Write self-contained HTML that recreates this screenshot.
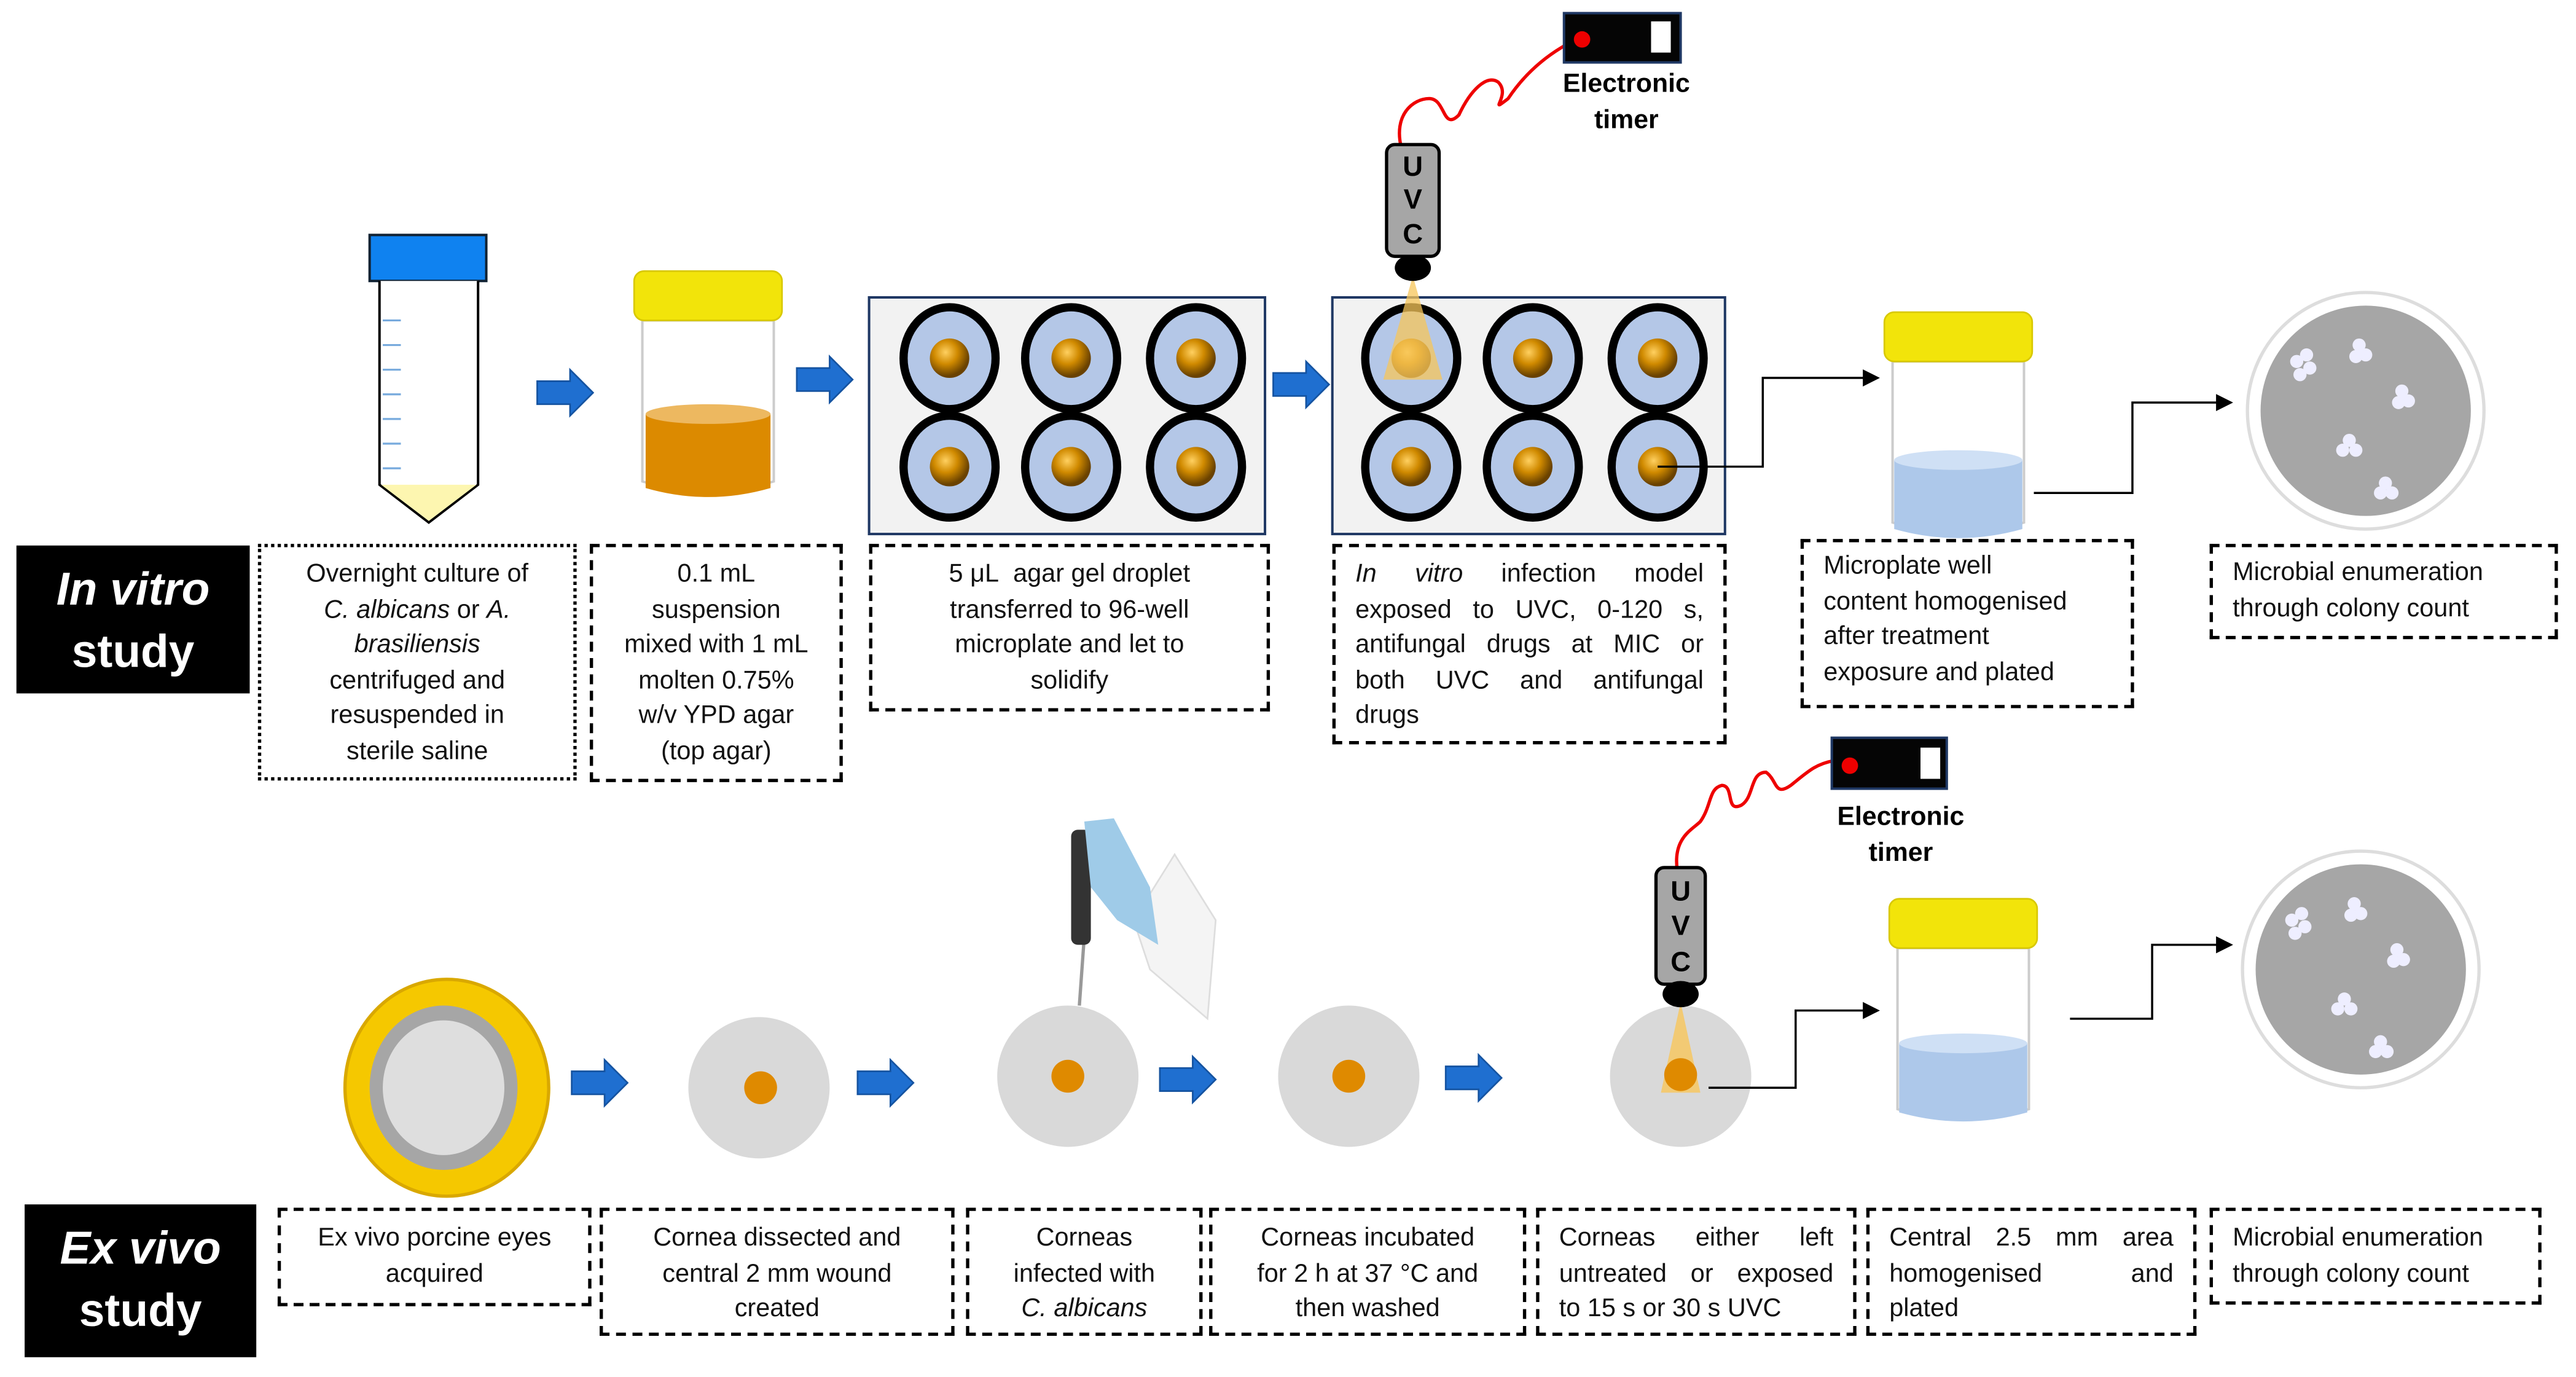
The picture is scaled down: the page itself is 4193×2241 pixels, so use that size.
<!DOCTYPE html>
<html><head><meta charset="utf-8"><style>
html,body{margin:0;padding:0;background:#fff;width:4193px;height:2240px;overflow:hidden}
#w{position:absolute;left:0;top:0;width:1568px;height:838px;transform:scale(2.6741);transform-origin:0 0;font-family:"Liberation Sans",sans-serif}
.b{position:absolute;box-sizing:border-box;border:2px dashed #000;font-size:15.5px;line-height:21.5px;color:#111;text-align:center;padding-top:6px}
.dot{border-style:dotted}
.j{text-align:left;padding:6px 12px 0 12px}
.j span{display:block;text-align:justify;text-align-last:justify}
.j span.e{text-align-last:left}
.l{text-align:left;padding-left:12px}
.lab{position:absolute;background:#000;color:#fff;font-weight:bold;font-size:28px;line-height:38px;text-align:center;padding-top:8px;box-sizing:border-box}
.et{position:absolute;font-weight:bold;font-size:16px;line-height:22px;text-align:center;width:100px}
svg{position:absolute;left:0;top:0}
</style></head><body><div id="w">
<svg width="1568" height="838" viewBox="0 0 1568 838">
<defs>
<radialGradient id="ball" cx="0.4" cy="0.35" r="0.6"><stop offset="0" stop-color="#ffd060"/><stop offset="0.5" stop-color="#d08a00"/><stop offset="1" stop-color="#6a4200"/></radialGradient>
<marker id="ah" markerWidth="8" markerHeight="8" refX="7" refY="4" orient="auto"><path d="M0,0 L8,4 L0,8z" fill="#000"/></marker>
<g id="arr"><path d="M0,-7 H20 V-14 L34,0 L20,14 V7 H0z" fill="#1f6fd0" stroke="#1553a0" stroke-width="1"/></g>
<g id="well"><ellipse rx="28" ry="31" fill="#b4c7e7" stroke="#000" stroke-width="5"/><circle r="12" fill="url(#ball)"/></g>
<g id="petri"><circle r="72" fill="#fff" stroke="#ddd" stroke-width="2"/><circle r="64" fill="#a6a6a6"/>
<g fill="#eef"><circle cx="-42" cy="-30" r="4"/><circle cx="-36" cy="-34" r="4"/><circle cx="-40" cy="-22" r="4"/><circle cx="-34" cy="-26" r="4"/>
<circle cx="-4" cy="-40" r="4"/><circle cx="0" cy="-34" r="4"/><circle cx="-6" cy="-33" r="4"/>
<circle cx="22" cy="-12" r="4"/><circle cx="26" cy="-6" r="4"/><circle cx="20" cy="-5" r="4"/>
<circle cx="-10" cy="18" r="4"/><circle cx="-6" cy="24" r="4"/><circle cx="-14" cy="24" r="4"/>
<circle cx="12" cy="44" r="4"/><circle cx="16" cy="50" r="4"/><circle cx="9" cy="50" r="4"/></g></g>
<g id="jar"><path d="M5,30 H85 V128 Q45,140 5,128z" fill="#fff" stroke="#ccc" stroke-width="1.5"/>
<rect x="0" y="0" width="90" height="30" rx="6" fill="#f2e40a" stroke="#d8c800"/></g>
</defs>
<rect x="225" y="143" width="71" height="28" fill="#0f82f0" stroke="#123" stroke-width="1.5"/>
<path d="M231,171 V295 L261,318 L291,295 V171" fill="#fff" stroke="#000" stroke-width="1.5"/>
<path d="M232,295 L261,317 L290,295z" fill="#fdf6b0"/>
<g stroke="#7ad" stroke-width="1.2"><line x1="233" y1="195" x2="244" y2="195"/><line x1="233" y1="210" x2="244" y2="210"/><line x1="233" y1="225" x2="244" y2="225"/><line x1="233" y1="240" x2="244" y2="240"/><line x1="233" y1="255" x2="244" y2="255"/><line x1="233" y1="270" x2="244" y2="270"/><line x1="233" y1="285" x2="244" y2="285"/></g>
<use href="#arr" x="327" y="239"/>
<use href="#jar" x="386" y="165"/>
<path d="M393,252 H469 V297 Q431,308 393,297z" fill="#dc8a00"/><ellipse cx="431" cy="252" rx="38" ry="6" fill="#edb860"/>
<use href="#arr" x="485" y="231"/>
<rect x="529" y="181" width="241" height="144" fill="#f2f2f2" stroke="#1f3864" stroke-width="1.5"/>
<use href="#well" x="578" y="218"/><use href="#well" x="652" y="218"/><use href="#well" x="728" y="218"/>
<use href="#well" x="578" y="284"/><use href="#well" x="652" y="284"/><use href="#well" x="728" y="284"/>
<use href="#arr" x="775" y="234"/>
<rect x="811" y="181" width="239" height="144" fill="#f2f2f2" stroke="#1f3864" stroke-width="1.5"/>
<use href="#well" x="859" y="218"/><use href="#well" x="933" y="218"/><use href="#well" x="1009" y="218"/>
<use href="#well" x="859" y="284"/><use href="#well" x="933" y="284"/><use href="#well" x="1009" y="284"/>
<path d="M860,168 L842,231 L878,231z" fill="#f7c55a" opacity="0.75"/>
<path d="M853,90 C848,70 860,60 870,60 C880,60 878,80 888,70 C895,55 905,45 912,50 C920,58 905,70 918,60 C928,45 940,35 952,28" fill="none" stroke="#e00" stroke-width="2"/>
<rect x="844" y="88" width="32" height="68" rx="5" fill="#a6a6a6" stroke="#000" stroke-width="2"/>
<g font-family="Liberation Sans" font-weight="bold" font-size="17" text-anchor="middle"><text x="860" y="107">U</text><text x="860" y="127">V</text><text x="860" y="148">C</text></g>
<ellipse cx="860" cy="163" rx="11" ry="8" fill="#000"/>
<rect x="952" y="8" width="71" height="30" fill="#050505" stroke="#1f3864" stroke-width="1.5"/><circle cx="963" cy="24" r="5" fill="#e00"/><rect x="1005" y="13" width="12" height="19" fill="#fff"/>
<path d="M1009,284 H1073 V230 H1143" fill="none" stroke="#000" stroke-width="1.3" marker-end="url(#ah)"/>
<use href="#jar" x="1147" y="190"/>
<path d="M1153,280 H1231 V322 Q1192,333 1153,322z" fill="#adc8ea"/><ellipse cx="1192" cy="280" rx="39" ry="6" fill="#cfe0f5"/>
<path d="M1238,300 H1298 V245 H1358" fill="none" stroke="#000" stroke-width="1.3" marker-end="url(#ah)"/>
<use href="#petri" x="1440" y="250"/>

<ellipse cx="272" cy="662" rx="62" ry="66" fill="#f5c800" stroke="#d9a800" stroke-width="2"/>
<ellipse cx="270" cy="662" rx="45" ry="50" fill="#a6a6a6"/><ellipse cx="270" cy="662" rx="37" ry="41" fill="#dedede"/>
<use href="#arr" x="348" y="659"/>
<circle cx="462" cy="662" r="43" fill="#d9d9d9"/><circle cx="463" cy="662" r="10" fill="#df8a00"/>
<use href="#arr" x="522" y="659"/>
<circle cx="650" cy="655" r="43" fill="#d9d9d9"/><circle cx="650" cy="655" r="10" fill="#df8a00"/>
<line x1="657" y1="612" x2="660" y2="570" stroke="#999" stroke-width="2"/>
<rect x="652" y="505" width="12" height="70" rx="4" fill="#333"/>
<path d="M690,560 L715,520 L740,560 L735,620 L700,590z" fill="#f4f4f4" stroke="#ddd"/>
<path d="M660,500 L678,498 L700,540 L705,575 L680,560 L664,540z" fill="#9fcbe8"/>
<use href="#arr" x="706" y="657"/>
<circle cx="821" cy="655" r="43" fill="#d9d9d9"/><circle cx="821" cy="655" r="10" fill="#df8a00"/>
<use href="#arr" x="880" y="656"/>
<circle cx="1023" cy="655" r="43" fill="#d9d9d9"/>
<path d="M1023,610 L1011,665 L1035,665z" fill="#f7c55a" opacity="0.8"/><circle cx="1023" cy="654" r="10" fill="#df8a00"/>
<path d="M1021,530 C1018,510 1030,505 1035,500 C1042,490 1040,480 1048,478 C1056,478 1050,495 1060,490 C1068,485 1065,470 1075,470 C1082,475 1080,485 1090,478 C1100,470 1105,465 1116,463" fill="none" stroke="#e00" stroke-width="2"/>
<rect x="1008" y="528" width="30" height="71" rx="5" fill="#a6a6a6" stroke="#000" stroke-width="2"/>
<g font-family="Liberation Sans" font-weight="bold" font-size="17" text-anchor="middle"><text x="1023" y="548">U</text><text x="1023" y="569">V</text><text x="1023" y="591">C</text></g>
<ellipse cx="1023" cy="605" rx="11" ry="8" fill="#000"/>
<rect x="1115" y="449" width="70" height="31" fill="#050505" stroke="#1f3864" stroke-width="1.5"/><circle cx="1126" cy="466" r="5" fill="#e00"/><rect x="1169" y="455" width="12" height="19" fill="#fff"/>
<path d="M1040,662 H1093 V615 H1143" fill="none" stroke="#000" stroke-width="1.3" marker-end="url(#ah)"/>
<use href="#jar" x="1150" y="547"/>
<path d="M1156,635 H1234 V677 Q1195,688 1156,677z" fill="#adc8ea"/><ellipse cx="1195" cy="635" rx="39" ry="6" fill="#cfe0f5"/>
<path d="M1260,620 H1310 V575 H1358" fill="none" stroke="#000" stroke-width="1.3" marker-end="url(#ah)"/>
<use href="#petri" x="1437" y="590"/>
</svg>

<div class="et" style="left:940px;top:41px">Electronic<br>timer</div>
<div class="et" style="left:1107px;top:487px">Electronic<br>timer</div>

<div class="lab" style="left:10px;top:332px;width:142px;height:90px"><i>In vitro</i><br>study</div>
<div class="b dot" style="left:157px;top:331px;width:194px;height:144px">Overnight culture of<br><i>C. albicans</i> or <i>A.</i><br><i>brasiliensis</i><br>centrifuged and<br>resuspended in<br>sterile saline</div>
<div class="b" style="left:359px;top:331px;width:154px;height:145px">0.1 mL<br>suspension<br>mixed with 1 mL<br>molten 0.75%<br>w/v YPD agar<br>(top agar)</div>
<div class="b" style="left:529px;top:331px;width:244px;height:102px">5 μL&nbsp; agar gel droplet<br>transferred to 96-well<br>microplate and let to<br>solidify</div>
<div class="b j" style="left:811px;top:331px;width:240px;height:122px"><span><i>In vitro</i> infection model</span><span>exposed to UVC, 0-120 s,</span><span>antifungal drugs at MIC or</span><span>both UVC and antifungal</span><span class="e">drugs</span></div>
<div class="b l" style="left:1096px;top:328px;width:203px;height:103px;padding-top:4px">Microplate well<br>content homogenised<br>after treatment<br>exposure and plated</div>
<div class="b l" style="left:1345px;top:331px;width:212px;height:58px;padding-top:5px">Microbial enumeration<br>through colony count</div>

<div class="lab" style="left:15px;top:733px;width:141px;height:93px"><i>Ex vivo</i><br>study</div>
<div class="b" style="left:169px;top:735px;width:191px;height:60px">Ex vivo porcine eyes<br>acquired</div>
<div class="b" style="left:365px;top:735px;width:216px;height:78px">Cornea dissected and<br>central 2 mm wound<br>created</div>
<div class="b" style="left:588px;top:735px;width:144px;height:78px">Corneas<br>infected with<br><i>C. albicans</i></div>
<div class="b" style="left:736px;top:735px;width:193px;height:78px">Corneas incubated<br>for 2 h at 37 °C and<br>then washed</div>
<div class="b j" style="left:935px;top:735px;width:195px;height:78px"><span>Corneas either left</span><span>untreated or exposed</span><span class="e">to 15 s or 30 s UVC</span></div>
<div class="b j" style="left:1136px;top:735px;width:201px;height:78px"><span>Central 2.5 mm area</span><span>homogenised and</span><span class="e">plated</span></div>
<div class="b l" style="left:1345px;top:735px;width:202px;height:59px">Microbial enumeration<br>through colony count</div>
</div></body></html>
